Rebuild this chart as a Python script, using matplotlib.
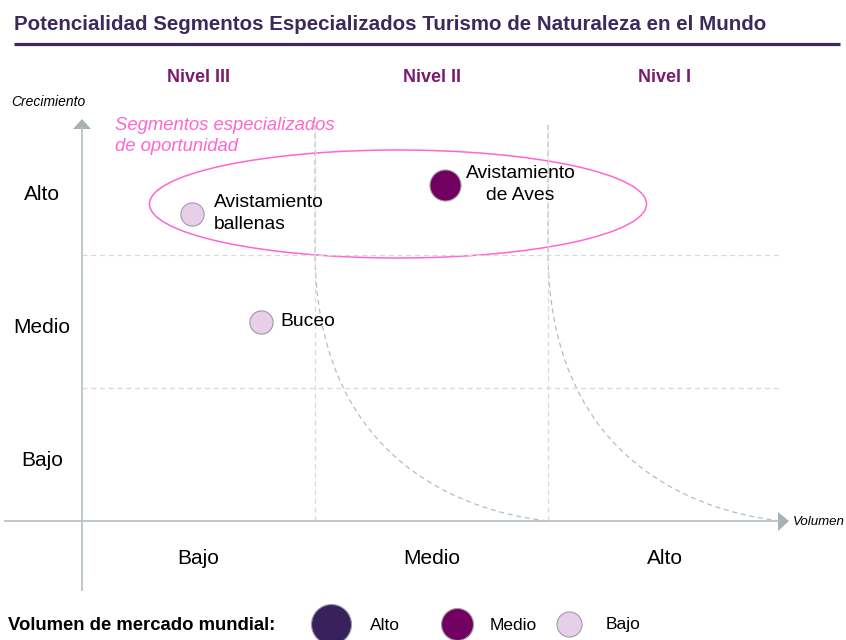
import matplotlib.pyplot as plt
from matplotlib.patches import Ellipse, PathPatch, Polygon
from matplotlib.path import Path

# Datos
segmentos = ["Avistamiento\nballenas", "Buceo", "Avistamiento\nde Aves"]
volumen = [0.47, 0.77, 1.56]          # posición en eje Volumen (0-3)
crecimiento = [2.31, 1.50, 2.53]      # posición en eje Crecimiento (0-3)
nivel_volumen = ["Bajo", "Bajo", "Medio"]

niveles = ["Nivel III", "Nivel II", "Nivel I"]
etiquetas_x = ["Bajo", "Medio", "Alto"]
etiquetas_y = ["Bajo", "Medio", "Alto"]
leyenda = ["Alto", "Medio", "Bajo"]

colores = {"Alto": "#38215c", "Medio": "#720061", "Bajo": "#e7cfe9"}
tam_punto = {"Alto": 800, "Medio": 500, "Bajo": 280}
tam_leyenda = {"Alto": 830, "Medio": 530, "Bajo": 325}

GRIS_EJE = "#b9c3c5"
GRIS_DASH = "#d9d9d9"
GRIS_CURVA = "#b4bec1"
MORADO = "#3d2a5c"
ROSA = "#ff66d0"

plt.rcParams['font.family'] = ['Liberation Sans', 'DejaVu Sans']


# conversión píxel -> unidades de la matriz (solo para la maquetación)
def px(x):
    return (x - 82) / 233


def py(y):
    return (521 - y) / 133


fig = plt.figure(figsize=(8.46, 6.4), dpi=100)
ax = fig.add_axes([0, 0, 1, 1])
ax.set_xlim(px(0), px(846))
ax.set_ylim(py(640), py(0))
ax.axis('off')

# Título y línea
ax.text(px(14), py(25), "Potencialidad Segmentos Especializados Turismo de Naturaleza en el Mundo",
        fontsize=14.8, fontweight='bold', color=MORADO, ha='left', va='center')
ax.plot([px(14), px(840)], [py(44), py(44)], color=MORADO, lw=2.3, solid_capstyle='butt')

# Niveles
for i, n in enumerate(niveles):
    ax.text(i + 0.5, py(78), n, fontsize=13, fontweight='bold', color="#7b1a6e",
            ha='center', va='center')

# Rejilla discontinua
for x in [1, 2]:
    ax.plot([x, x], [0, py(125)], color=GRIS_DASH, lw=0.9, dashes=(4, 3))
for y in [1, 2]:
    ax.plot([0, 3], [y, y], color=GRIS_DASH, lw=0.9, dashes=(4, 3))

# Curvas de nivel
for x0 in [1, 2]:
    verts = [(x0, py(125)), (x0, py(250)), (x0, py(450)), (x0 + 0.579, py(510)), (x0 + 1, 0)]
    codes = [Path.MOVETO, Path.LINETO, Path.CURVE4, Path.CURVE4, Path.CURVE4]
    ax.add_patch(PathPatch(Path(verts, codes), fill=False, ec=GRIS_CURVA, lw=0.9,
                           linestyle=(0, (4, 3))))

# Ejes con flechas
ax.plot([0, 0], [py(590), py(128)], color=GRIS_EJE, lw=1.3)
ax.plot([px(5), px(779)], [0, 0], color=GRIS_EJE, lw=1.3)
ax.add_patch(Polygon([(px(73), py(129)), (px(91), py(129)), (px(82), py(119))],
                     closed=True, color="#a9b1b4", lw=0))
ax.add_patch(Polygon([(px(778), py(512)), (px(778), py(531)), (px(789), 0)],
                     closed=True, color="#a9b1b4", lw=0))
ax.text(px(11), py(102), "Crecimiento", fontsize=10, style='italic', ha='left', va='center')
ax.text(px(793), py(522), "Volumen", fontsize=9.5, style='italic', ha='left', va='center')

# Etiquetas de ejes
for i, t in enumerate(etiquetas_y):
    ax.text(px(42), i + 0.5 - 0.045, t, fontsize=15, ha='center', va='center')
for i, t in enumerate(etiquetas_x):
    ax.text(i + 0.5, py(559), t, fontsize=15, ha='center', va='center')

# Elipse de oportunidad
ax.add_patch(Ellipse((px(398), py(204)), 497 / 233, 108 / 133, fill=False, ec=ROSA, lw=1.1))
ax.text(px(115), py(136), "Segmentos especializados\nde oportunidad", fontsize=13.3,
        style='italic', color=ROSA, ha='left', va='center', linespacing=1.35)

# Puntos
for s, x, y, n in zip(segmentos, volumen, crecimiento, nivel_volumen):
    ax.scatter(x, y, s=tam_punto[n], color=colores[n], edgecolors="#9c9ca4", linewidths=0.8, zorder=3)

ax.annotate(segmentos[0], (volumen[0], crecimiento[0]), xytext=(16, 0), textcoords='offset points',
            fontsize=13.9, ha='left', va='center', linespacing=1.4)
ax.annotate(segmentos[1], (volumen[1], crecimiento[1]), xytext=(14, 0), textcoords='offset points',
            fontsize=13.9, ha='left', va='center')
ax.annotate(segmentos[2], (volumen[2], crecimiento[2]), xytext=(54, 0), textcoords='offset points',
            fontsize=13.9, ha='center', va='center', linespacing=1.4)

# Leyenda
ax.text(px(8), py(625), "Volumen de mercado mundial:", fontsize=13.3, fontweight='bold',
        ha='left', va='center')
ley_x = [px(331), px(457), px(569)]
ley_txt_x = [px(370), px(490), px(606)]
for n, x, xt in zip(leyenda, ley_x, ley_txt_x):
    ax.scatter(x, py(624), s=tam_leyenda[n], color=colores[n], edgecolors="#9c9ca4",
               linewidths=0.8, zorder=3, clip_on=False)
    ax.text(xt, py(625), n, fontsize=12.5, ha='left', va='center')

fig.savefig("out.png", dpi=100)
